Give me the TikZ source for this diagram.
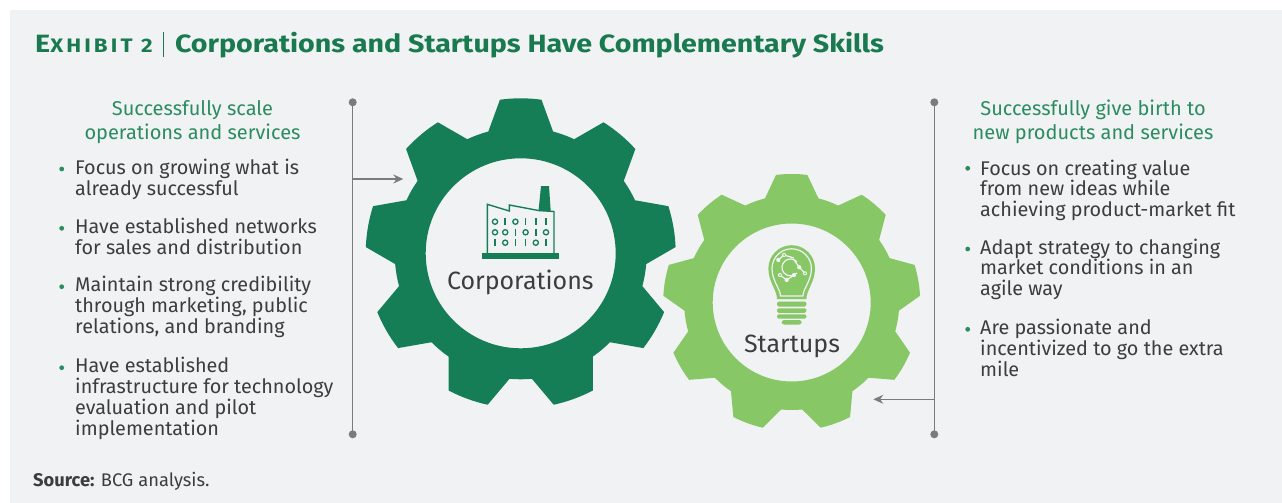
\documentclass[tikz,border=0pt]{standalone}
\usepackage{fontspec}
\setmainfont{Fira Sans}
\usetikzlibrary{arrows.meta}
\definecolor{bg}{HTML}{F1F2F4}
\definecolor{darkg}{HTML}{157E57}
\definecolor{lightg}{HTML}{88C766}
\definecolor{headg}{HTML}{2B8C60}
\definecolor{titleg}{HTML}{197A50}
\definecolor{txt}{HTML}{3D3D3D}
\definecolor{lineg}{HTML}{7B7B7B}
\tikzset{
  body/.style={font=\fontsize{19.8}{20.8}\selectfont, text=txt, align=left, inner sep=0pt, anchor=base west},
  head/.style={font=\fontsize{20}{24}\selectfont, text=headg, align=center, inner sep=0pt, anchor=base},
  gearlabel/.style={font=\fontsize{25}{25}\selectfont, text=txt, inner sep=0pt, anchor=base},
  bracket/.style={draw=lineg, line width=1.5pt},
  pointer/.style={draw=lineg, line width=1.3pt, -{Stealth[length=10pt,width=9pt]}},
  icon/.style={draw=darkg, line width=1.4pt},
}
\newcommand\drawgear[8]{%
  \begin{scope}[shift={(#1,#2)}]
    \fill[#8, even odd rule] ({-90-#6}:#4)
      \foreach \k in {0,...,8}{
        -- ({-90+40*\k-#6}:#4) -- ({-90+40*\k-#5}:#3)
        arc[start angle={-90+40*\k-#5}, end angle={-90+40*\k+#5}, radius=#3]
        -- ({-90+40*\k+#6}:#4)
        arc[start angle={-90+40*\k+#6}, end angle={-90+40*\k+40-#6}, radius=#4]
      } -- cycle
      (0,0) circle[radius=#7];
  \end{scope}}
\begin{document}
\begin{tikzpicture}[x=1pt,y=-1pt]
\useasboundingbox (0,0) rectangle (1282,503);
\fill[white] (0,0) rectangle (1282,503);
\fill[bg] (10,10) rectangle (1282,503);

% title
\node[inner sep=0pt, anchor=base west, text=titleg, font=\bfseries\fontsize{25}{25}\selectfont] (title) at (35,52.3)
  {\scalebox{1.145}[1]{{\fontsize{25}{25}\selectfont E}{\fontsize{19.5}{19.5}\selectfont\addfontfeature{LetterSpace=14}XHIBIT 2}\hspace{9pt}\rule[-5pt]{1.1pt}{25.6pt}\hspace{9.5pt}Corporations and Startups Have Complementary Skills}};

% gears
\drawgear{791.7}{302.5}{128.5}{107.5}{7}{14.4}{79}{lightg}
\drawgear{520.7}{253.3}{155}{126}{7.7}{14.9}{95}{darkg}

% factory icon
\fill[darkg] (481.7,253.3) rectangle (559.3,259);
\fill[darkg] (538.5,211) -- (541,186) -- (549,186) -- (550.7,211) -- cycle;
\draw[icon, line join=miter] (487.3,253.3) -- (487.3,204.3) -- (509.3,211) -- (509.3,205) -- (538.5,210.5) -- (554,211.5) -- (554,253.3);
\foreach \row/\y in {{0,1,0,1,1,1}/221.7, {0,0,1,0,1,0}/232.3, {1,0,1,1,0,1}/242.7}{
  \foreach \d [count=\i] in \row {
    \pgfmathsetmacro\xx{495+10.2*(\i-1)}
    \ifnum\d=0
      \draw[darkg, line width=1.3pt] (\xx,\y) circle[radius=2.6];
    \else
      \draw[darkg, line width=1.5pt] (\xx,\y-3.3) -- (\xx,\y+3.3);
    \fi
  }
}

% bulb icon
\fill[lightg] (777,299) .. controls (777,290) and (768.4,282) .. (768.4,268.5)
  arc[start angle=180, end angle=360, radius=23.3]
  .. controls (815,282) and (806.4,290) .. (806.4,299) -- cycle;
\draw[bg, line width=1.2pt] (780.5,296) .. controls (780.5,289) and (772,281) .. (772,268.5)
  arc[start angle=180, end angle=360, radius=19.7]
  .. controls (811.4,281) and (802.9,289) .. (802.9,296) -- cycle;
\fill[lightg, rounded corners=1.5pt] (777,301.5) rectangle (806.4,306.5);
\fill[lightg, rounded corners=1.5pt] (777,308.3) rectangle (806.4,312.8);
\fill[lightg, rounded corners=1.5pt] (777,314.3) rectangle (806.4,318.6);
\fill[lightg, rounded corners=2.5pt] (781.7,320) rectangle (801.7,324.5);
\begin{scope}[bg, line width=1.2pt]
  \draw (797,262) arc[start angle=-40, end angle=-320, radius=8.5];
  \draw (778.3,260) -- (784,255) -- (794,258);
  \draw (794,260) -- (799.3,267.3) -- (805,273.3);
  \draw (794,275) -- (786.7,280) -- (780,275);
  \foreach \p in {(778.3,260),(784,255),(799.3,267.3),(805,273.3),(794,275),(780,275),(786.7,280)}
    \fill[bg] \p circle[radius=2.1];
  \fill[lightg] (784,255) circle[radius=1]; \fill[lightg] (805,273.3) circle[radius=1];
  \fill[lightg] (780,275) circle[radius=1];
\end{scope}

% gear labels
\node[gearlabel] (corp) at (520.3,289.3) {Corporations};
\node[gearlabel] (start) at (792,352.7) {Startups};

% left bracket
\coordinate (lt) at (352.7,102.3);
\coordinate (lb) at (352.7,434.3);
\coordinate (la) at (352.7,179);
\coordinate (laend) at (403.3,179);
\draw[bracket] (lt) -- (lb);
\fill[lineg] (lt) circle[radius=4];
\fill[lineg] (lb) circle[radius=4];
\draw[pointer] (la) -- (laend);

% right bracket
\coordinate (rt) at (934.3,102.3);
\coordinate (rb) at (934.3,434.3);
\coordinate (ra) at (934.3,399.3);
\coordinate (raend) at (873.3,399.3);
\draw[bracket] (rt) -- (rb);
\fill[lineg] (rt) circle[radius=4];
\fill[lineg] (rb) circle[radius=4];
\draw[pointer] (ra) -- (raend);

% left text
\node[head] (lhead) at (192.5,139) {Successfully scale\\operations and services};
\node[body] (l1) at (75,195) {Focus on growing what is\\already successful};
\node[body] (l2) at (75,254) {Have established networks\\for sales and distribution};
\node[body] (l3) at (75,333.3) {Maintain strong credibility\\through marketing, public\\relations, and branding};
\node[body] (l4) at (75,435) {Have established\\infrastructure for technology\\evaluation and pilot\\implementation};
\foreach \y in {169,228.3,286.7,367.7} \fill[headg] (61.7,\y) circle[radius=2.4];

% right text
\node[head] (rhead) at (1093,139) {Successfully give birth to\\new products and services};
\node[body] (r1) at (980,216.7) {Focus on creating value\\from new ideas while\\achieving product-market fit};
\node[body] (r2) at (980,295.7) {Adapt strategy to changing\\market conditions in an\\agile way};
\node[body] (r3) at (980,376) {Are passionate and\\incentivized to go the extra\\mile};
\foreach \y in {168.3,249,329.3} \fill[headg] (967.7,\y) circle[radius=2.4];

% source
\node[inner sep=0pt, anchor=base west, text=txt, font=\fontsize{18.3}{18.3}\selectfont] (src) at (33,486.7) {\textbf{Source:} BCG analysis.};
\end{tikzpicture}
\end{document}
